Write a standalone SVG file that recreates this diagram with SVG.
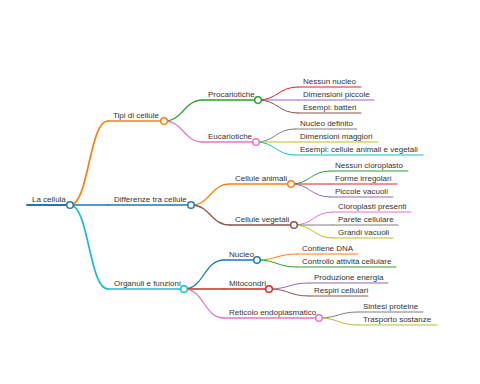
<svg xmlns="http://www.w3.org/2000/svg" width="480" height="384" viewBox="0 0 480 384">
<style>
text{font-family:"Liberation Sans",Arial,sans-serif;font-size:8px;fill:#333}
path,line{fill:none;stroke-linecap:round}
circle{fill:#fff;stroke-width:1.5}
.d0{stroke-width:2}.d1{stroke-width:1.7}.d2{stroke-width:1.3}.d3{stroke-width:1}
.c0{stroke:#1f77b4}.c1{stroke:#ff7f0e}.c2{stroke:#2ca02c}.c3{stroke:#d62728}.c4{stroke:#9467bd}
.c5{stroke:#8c564b}.c6{stroke:#e377c2}.c7{stroke:#7f7f7f}.c8{stroke:#bcbd22}.c9{stroke:#17becf}
</style>
<rect width="480" height="384" fill="#fff"/>
<g id="connectors">
<path class="d1 c1" d="M70,205 C89,205 89,121 108,121"/>
<path class="d1 c0" d="M70,205 L108,205"/>
<path class="d1 c9" d="M70,205 C89,205 89,289 108,289"/>
<path class="d2 c2" d="M164,121 C183.5,121 183.5,100 203,100"/>
<path class="d2 c6" d="M164,121 C183.5,121 183.5,142 203,142"/>
<path class="d2 c1" d="M191,205 C210.5,205 210.5,184 230,184"/>
<path class="d2 c5" d="M191,205 C210.5,205 210.5,225 230,225"/>
<path class="d2 c0" d="M184,289 C204,289 204,260 224,260"/>
<path class="d2 c3" d="M184,289 L224,289"/>
<path class="d2 c6" d="M184,289 C204,289 204,318 224,318"/>
<path class="d3 c3" d="M258,100 C278,100 278,87 298,87"/>
<path class="d3 c4" d="M258,100 L298,100"/>
<path class="d3 c5" d="M258,100 C278,100 278,113 298,113"/>
<path class="d3 c7" d="M256,142 C275.5,142 275.5,129 295,129"/>
<path class="d3 c8" d="M256,142 L295,142"/>
<path class="d3 c9" d="M256,142 C275.5,142 275.5,155 295,155"/>
<path class="d3 c2" d="M291,184 C310.5,184 310.5,171 330,171"/>
<path class="d3 c3" d="M291,184 L330,184"/>
<path class="d3 c4" d="M291,184 C310.5,184 310.5,197 330,197"/>
<path class="d3 c6" d="M294,225 C313.5,225 313.5,212 333,212"/>
<path class="d3 c7" d="M294,225 L333,225"/>
<path class="d3 c8" d="M294,225 C313.5,225 313.5,238 333,238"/>
<path class="d3 c1" d="M257,260 C277,260 277,254 297,254"/>
<path class="d3 c2" d="M257,260 C277,260 277,267 297,267"/>
<path class="d3 c4" d="M269,289 C289,289 289,283 309,283"/>
<path class="d3 c5" d="M269,289 C289,289 289,296 309,296"/>
<path class="d3 c7" d="M319,318 C338.5,318 338.5,312 358,312"/>
<path class="d3 c8" d="M319,318 C338.5,318 338.5,325 358,325"/>
</g>
<g id="n-root"><path class="d0 c0" d="M27,205 H70"/><circle class="c0" cx="70" cy="205" r="3.3"/><text x="32" y="202">La cellula</text></g>
<g id="n-tipi"><path class="d1 c1" d="M108,121 H164"/><circle class="c1" cx="164" cy="121" r="3.3"/><text x="113" y="118">Tipi di cellule</text></g>
<g id="n-differenze"><path class="d1 c0" d="M108,205 H191"/><circle class="c0" cx="191" cy="205" r="3.3"/><text x="114" y="202">Differenze tra cellule</text></g>
<g id="n-organuli"><path class="d1 c9" d="M108,289 H184"/><circle class="c9" cx="184" cy="289" r="3.3"/><text x="114" y="286">Organuli e funzioni</text></g>
<g id="n-procariotiche"><path class="d2 c2" d="M203,100 H258"/><circle class="c2" cx="258" cy="100" r="3.3"/><text x="208" y="97">Procariotiche</text></g>
<g id="n-eucariotiche"><path class="d2 c6" d="M203,142 H256"/><circle class="c6" cx="256" cy="142" r="3.3"/><text x="208" y="139">Eucariotiche</text></g>
<g id="n-animali"><path class="d2 c1" d="M230,184 H291"/><circle class="c1" cx="291" cy="184" r="3.3"/><text x="235" y="181">Cellule animali</text></g>
<g id="n-vegetali"><path class="d2 c5" d="M230,225 H294"/><circle class="c5" cx="294" cy="225" r="3.3"/><text x="235" y="222">Cellule vegetali</text></g>
<g id="n-nucleo"><path class="d2 c0" d="M224,260 H257"/><circle class="c0" cx="257" cy="260" r="3.3"/><text x="229" y="257">Nucleo</text></g>
<g id="n-mitocondri"><path class="d2 c3" d="M224,289 H269"/><circle class="c3" cx="269" cy="289" r="3.3"/><text x="229" y="286">Mitocondri</text></g>
<g id="n-reticolo"><path class="d2 c6" d="M224,318 H319"/><circle class="c6" cx="319" cy="318" r="3.3"/><text x="229" y="315">Reticolo endoplasmatico</text></g>
<g id="n-l1"><path class="d3 c3" d="M298,87 H361"/><text x="303" y="84">Nessun nucleo</text></g>
<g id="n-l2"><path class="d3 c4" d="M298,100 H374"/><text x="303" y="97">Dimensioni piccole</text></g>
<g id="n-l3"><path class="d3 c5" d="M298,113 H361"/><text x="303" y="110">Esempi: batteri</text></g>
<g id="n-l4"><path class="d3 c7" d="M295,129 H357"/><text x="300" y="126">Nucleo definito</text></g>
<g id="n-l5"><path class="d3 c8" d="M295,142 H378"/><text x="300" y="139">Dimensioni maggiori</text></g>
<g id="n-l6"><path class="d3 c9" d="M295,155 H423"/><text x="300" y="152">Esempi: cellule animali e vegetali</text></g>
<g id="n-l7"><path class="d3 c2" d="M330,171 H408"/><text x="335" y="168">Nessun cloroplasto</text></g>
<g id="n-l8"><path class="d3 c3" d="M330,184 H397"/><text x="335" y="181">Forme irregolari</text></g>
<g id="n-l9"><path class="d3 c4" d="M330,197 H393"/><text x="335" y="194">Piccole vacuoli</text></g>
<g id="n-l10"><path class="d3 c6" d="M333,212 H411"/><text x="338" y="209">Cloroplasti presenti</text></g>
<g id="n-l11"><path class="d3 c7" d="M333,225 H398"/><text x="338" y="222">Parete cellulare</text></g>
<g id="n-l12"><path class="d3 c8" d="M333,238 H393"/><text x="338" y="235">Grandi vacuoli</text></g>
<g id="n-l13"><path class="d3 c1" d="M297,254 H358"/><text x="302" y="251">Contiene DNA</text></g>
<g id="n-l14"><path class="d3 c2" d="M297,267 H396"/><text x="302" y="264">Controllo attività cellulare</text></g>
<g id="n-l15"><path class="d3 c4" d="M309,283 H388"/><text x="314" y="280">Produzione energia</text></g>
<g id="n-l16"><path class="d3 c5" d="M309,296 H368"/><text x="314" y="293">Respiri cellulari</text></g>
<g id="n-l17"><path class="d3 c7" d="M358,312 H423"/><text x="363" y="309">Sintesi proteine</text></g>
<g id="n-l18"><path class="d3 c8" d="M358,325 H437"/><text x="363" y="322">Trasporto sostanze</text></g>
</svg>
